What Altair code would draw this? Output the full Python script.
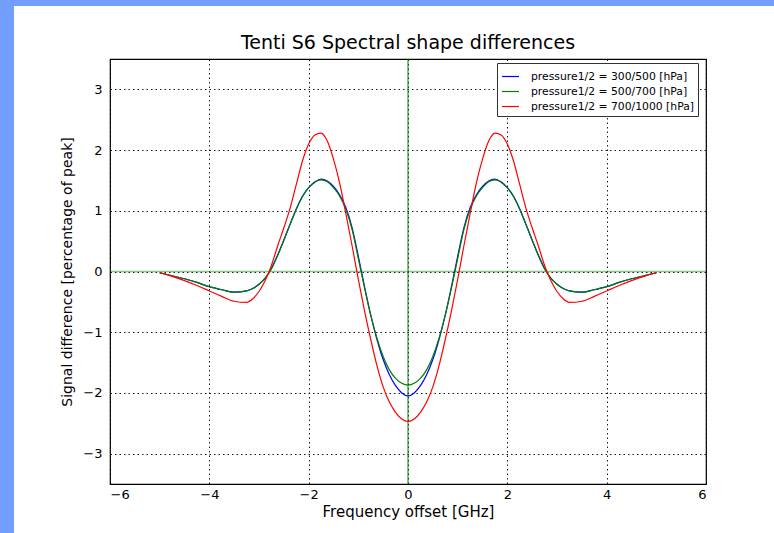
import altair as alt
import pandas as pd

# Frequency offsets [GHz]
freq = [-5.0, -4.75, -4.5, -4.25, -4.0, -3.75, -3.5, -3.25, -3.125, -3.0,
        -2.875, -2.75, -2.625, -2.5, -2.375, -2.25, -2.125, -2.0, -1.875, -1.75,
        -1.625, -1.5, -1.375, -1.25, -1.125, -1.0, -0.875, -0.75, -0.625, -0.5,
        -0.375, -0.25, -0.125, 0.0,
        0.125, 0.25, 0.375, 0.5, 0.625, 0.75, 0.875, 1.0, 1.125, 1.25,
        1.375, 1.5, 1.625, 1.75, 1.875, 2.0, 2.125, 2.25, 2.375, 2.5,
        2.625, 2.75, 2.875, 3.0, 3.125, 3.25, 3.5, 3.75, 4.0, 4.25,
        4.5, 4.75, 5.0]

# Signal differences [percentage of peak]
blue_vals = [-0.02, -0.07, -0.12, -0.18, -0.25, -0.30, -0.34, -0.32, -0.28, -0.21,
             -0.11, 0.05, 0.27, 0.52, 0.78, 1.03, 1.24, 1.38, 1.47, 1.52,
             1.49, 1.40, 1.26, 1.05, 0.72, 0.25, -0.25, -0.72, -1.12, -1.45,
             -1.70, -1.88, -2.00, -2.05,
             -2.00, -1.88, -1.70, -1.45, -1.12, -0.72, -0.25, 0.25, 0.72, 1.05,
             1.26, 1.40, 1.49, 1.52, 1.47, 1.38, 1.24, 1.03, 0.78, 0.52,
             0.27, 0.05, -0.11, -0.21, -0.28, -0.32, -0.34, -0.30, -0.25, -0.18,
             -0.12, -0.07, -0.02]
green_vals = [-0.02, -0.07, -0.12, -0.18, -0.25, -0.30, -0.34, -0.32, -0.28, -0.21,
              -0.11, 0.04, 0.26, 0.51, 0.77, 1.02, 1.23, 1.38, 1.48, 1.51,
              1.48, 1.38, 1.24, 1.02, 0.69, 0.21, -0.27, -0.72, -1.10, -1.40,
              -1.62, -1.76, -1.84, -1.87,
              -1.84, -1.76, -1.62, -1.40, -1.10, -0.72, -0.27, 0.21, 0.69, 1.02,
              1.24, 1.38, 1.48, 1.51, 1.48, 1.38, 1.23, 1.02, 0.77, 0.51,
              0.26, 0.04, -0.11, -0.21, -0.28, -0.32, -0.34, -0.30, -0.25, -0.18,
              -0.12, -0.07, -0.02]
red_vals = [-0.02, -0.08, -0.15, -0.23, -0.32, -0.41, -0.49, -0.51, -0.45, -0.33,
            -0.15, 0.10, 0.42, 0.72, 1.04, 1.43, 1.82, 2.10, 2.25, 2.28,
            2.15, 1.85, 1.45, 0.95, 0.42, -0.13, -0.65, -1.12, -1.55, -1.90,
            -2.15, -2.32, -2.43, -2.47,
            -2.43, -2.32, -2.15, -1.90, -1.55, -1.12, -0.65, -0.13, 0.42, 0.95,
            1.45, 1.85, 2.15, 2.28, 2.25, 2.10, 1.82, 1.43, 1.04, 0.72,
            0.42, 0.10, -0.15, -0.33, -0.45, -0.51, -0.49, -0.41, -0.32, -0.23,
            -0.15, -0.08, -0.02]

series_names = ["pressure1/2 = 300/500 [hPa]",
                "pressure1/2 = 500/700 [hPa]",
                "pressure1/2 = 700/1000 [hPa]"]
series_colors = ["#0000ff", "#008000", "#ff0000"]

x_ticks = [-6, -4, -2, 0, 2, 4, 6]
y_ticks = [-3, -2, -1, 0, 1, 2, 3]

rows = []
for name, vals in zip(series_names, [blue_vals, green_vals, red_vals]):
    for f, v in zip(freq, vals):
        rows.append({"freq": f, "value": v, "series": name})
df = pd.DataFrame(rows)

FONT = "DejaVu Sans"
x_scale = alt.Scale(domain=[-6, 6], nice=False, zero=False)
y_scale = alt.Scale(domain=[-3.5, 3.5], nice=False, zero=False)

lines = alt.Chart(df).mark_line(strokeWidth=1.2, interpolate="monotone").encode(
    x=alt.X("freq:Q", scale=x_scale,
            axis=alt.Axis(values=x_ticks, format="d", title="Frequency offset [GHz]",
                          labelPadding=4, titlePadding=3, titleFontSize=15)),
    y=alt.Y("value:Q", scale=y_scale,
            axis=alt.Axis(values=y_ticks, format="d",
                          title="Signal difference [percentage of peak]",
                          labelPadding=8, titlePadding=8, titleFontSize=14)),
    color=alt.Color("series:N",
                    scale=alt.Scale(domain=series_names, range=series_colors),
                    legend=alt.Legend(title=None, orient="none", legendX=387, legendY=4,
                                      direction="vertical")),
)

hzero = alt.Chart(pd.DataFrame({"y": [0]})).mark_rule(
    color="#008000", opacity=0.45, strokeWidth=1.6
).encode(y=alt.Y("y:Q", scale=y_scale))

vzero = alt.Chart(pd.DataFrame({"x": [0]})).mark_rule(
    color="#008000", strokeWidth=1
).encode(x=alt.X("x:Q", scale=x_scale))

frame_df = pd.DataFrame({"a": [0]})
left_strip = alt.Chart(frame_df).mark_rect(color="#729fff").encode(
    x=alt.value(-110), x2=alt.value(-96), y=alt.value(-59), y2=alt.value(474))
top_strip = alt.Chart(frame_df).mark_rect(color="#729fff").encode(
    x=alt.value(-110), x2=alt.value(664), y=alt.value(-59), y2=alt.value(-53))

chart = alt.layer(left_strip, top_strip, hzero, vzero, lines).properties(
    width=596, height=425,
    title=alt.TitleParams("Tenti S6 Spectral shape differences", fontSize=19,
                          font=FONT, fontWeight="normal", color="black",
                          offset=9, dy=62, frame="group", anchor="middle"),
    autosize=alt.AutoSizeParams(type="none"),
    padding={"left": 110, "top": 59, "right": 68, "bottom": 49},
    background="white",
).configure_view(
    stroke="black", strokeWidth=1.2
).configure_axis(
    domain=False, ticks=False,
    grid=True, gridColor="black", gridDash=[1.5, 3], gridOpacity=1, gridWidth=0.9,
    labelFont=FONT, labelFontSize=13, labelColor="black",
    titleFont=FONT, titleFontWeight="normal", titleColor="black",
).configure_legend(
    strokeColor="#333333", fillColor="white", padding=4, cornerRadius=0,
    labelFont=FONT, labelFontSize=10.8, labelColor="black", labelLimit=400,
    symbolType="stroke", symbolStrokeWidth=1.2, symbolSize=289, labelOffset=11,
    rowPadding=-2,
)

chart.save("out.html", embed_options={"renderer": "svg", "actions": False})
